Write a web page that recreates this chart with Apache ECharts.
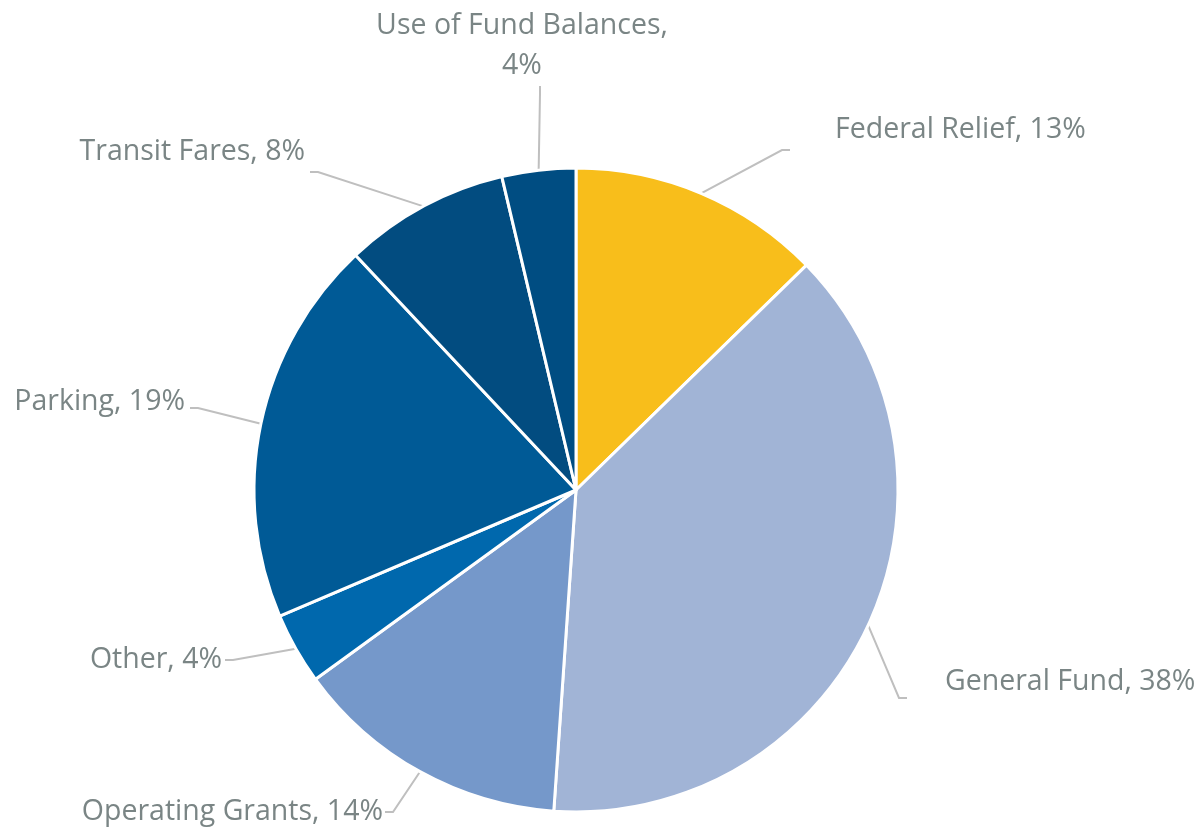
<!DOCTYPE html>
<html>
<head>
<meta charset="utf-8">
<script src="https://cdn.jsdelivr.net/npm/echarts@6/dist/echarts.min.js"></script>
<style>
html,body{margin:0;padding:0;background:#fff;}
#chart{width:1203px;height:832px;}
</style>
</head>
<body>
<div id="chart"></div>
<script>
// ---- data ----
const categories = ['Federal Relief', 'General Fund', 'Operating Grants', 'Other', 'Parking', 'Transit Fares', 'Use of Fund Balances'];
const shares = [12.7, 38.4, 13.9, 3.6, 19.4, 8.3, 3.7];
const sliceColors = ['#F8BE1B', '#A1B4D6', '#7598CA', '#0068AD', '#005A96', '#024C80', '#004D82'];

// ---- label placement (layout only) ----
const labelPos = [
  { x: 790, y: 111, align: 'left',   va: 'top',    pad: [0, 0, 40, 45] },
  { x: 907, y: 663, align: 'left',   va: 'top',    pad: [0, 0, 32, 38] },
  { x: 385, y: 793, align: 'right',  va: 'top',    pad: [0, 2, 0, 0] },
  { x: 225, y: 641, align: 'right',  va: 'top',    pad: [0, 3, 0, 0] },
  { x: 190, y: 383, align: 'right',  va: 'top',    pad: [0, 5, 12, 0] },
  { x: 310, y: 133, align: 'right',  va: 'top',    pad: [0, 5, 40, 0] },
  { x: 540, y: 86,  align: 'center', va: 'bottom', pad: [0, 36, 0, 0] }
];

const chart = echarts.init(document.getElementById('chart'), null, { renderer: 'canvas' });

const seriesData = categories.map((name, i) => ({
  name: name,
  value: shares[i],
  itemStyle: { color: sliceColors[i] },
  label: { padding: labelPos[i].pad, lineHeight: i === 6 ? 40 : 38 }
}));

chart.setOption({
  animation: false,
  backgroundColor: '#ffffff',
  series: [{
    type: 'pie',
    center: [576, 490],
    radius: [0, 322],
    startAngle: 90,
    clockwise: true,
    percentPrecision: 0,
    avoidLabelOverlap: false,
    data: seriesData,
    itemStyle: { borderColor: '#ffffff', borderWidth: 3 },
    label: {
      show: true,
      position: 'outside',
      color: '#7A8585',
      fontFamily: '"Open Sans", "Noto Sans", sans-serif',
      fontSize: 28.5,
      formatter: function (p) {
        return p.name + ',' + (p.dataIndex === 6 ? '\n' : ' ') + p.percent + '%';
      }
    },
    labelLine: {
      show: true,
      length: 20,
      length2: 8,
      smooth: false,
      lineStyle: { color: '#BFBFBF', width: 2 }
    },
    labelLayout: function (params) {
      const lp = labelPos[params.dataIndex];
      return { x: lp.x, y: lp.y, align: lp.align, verticalAlign: lp.va };
    },
    emphasis: { disabled: true }
  }]
});
</script>
</body>
</html>
